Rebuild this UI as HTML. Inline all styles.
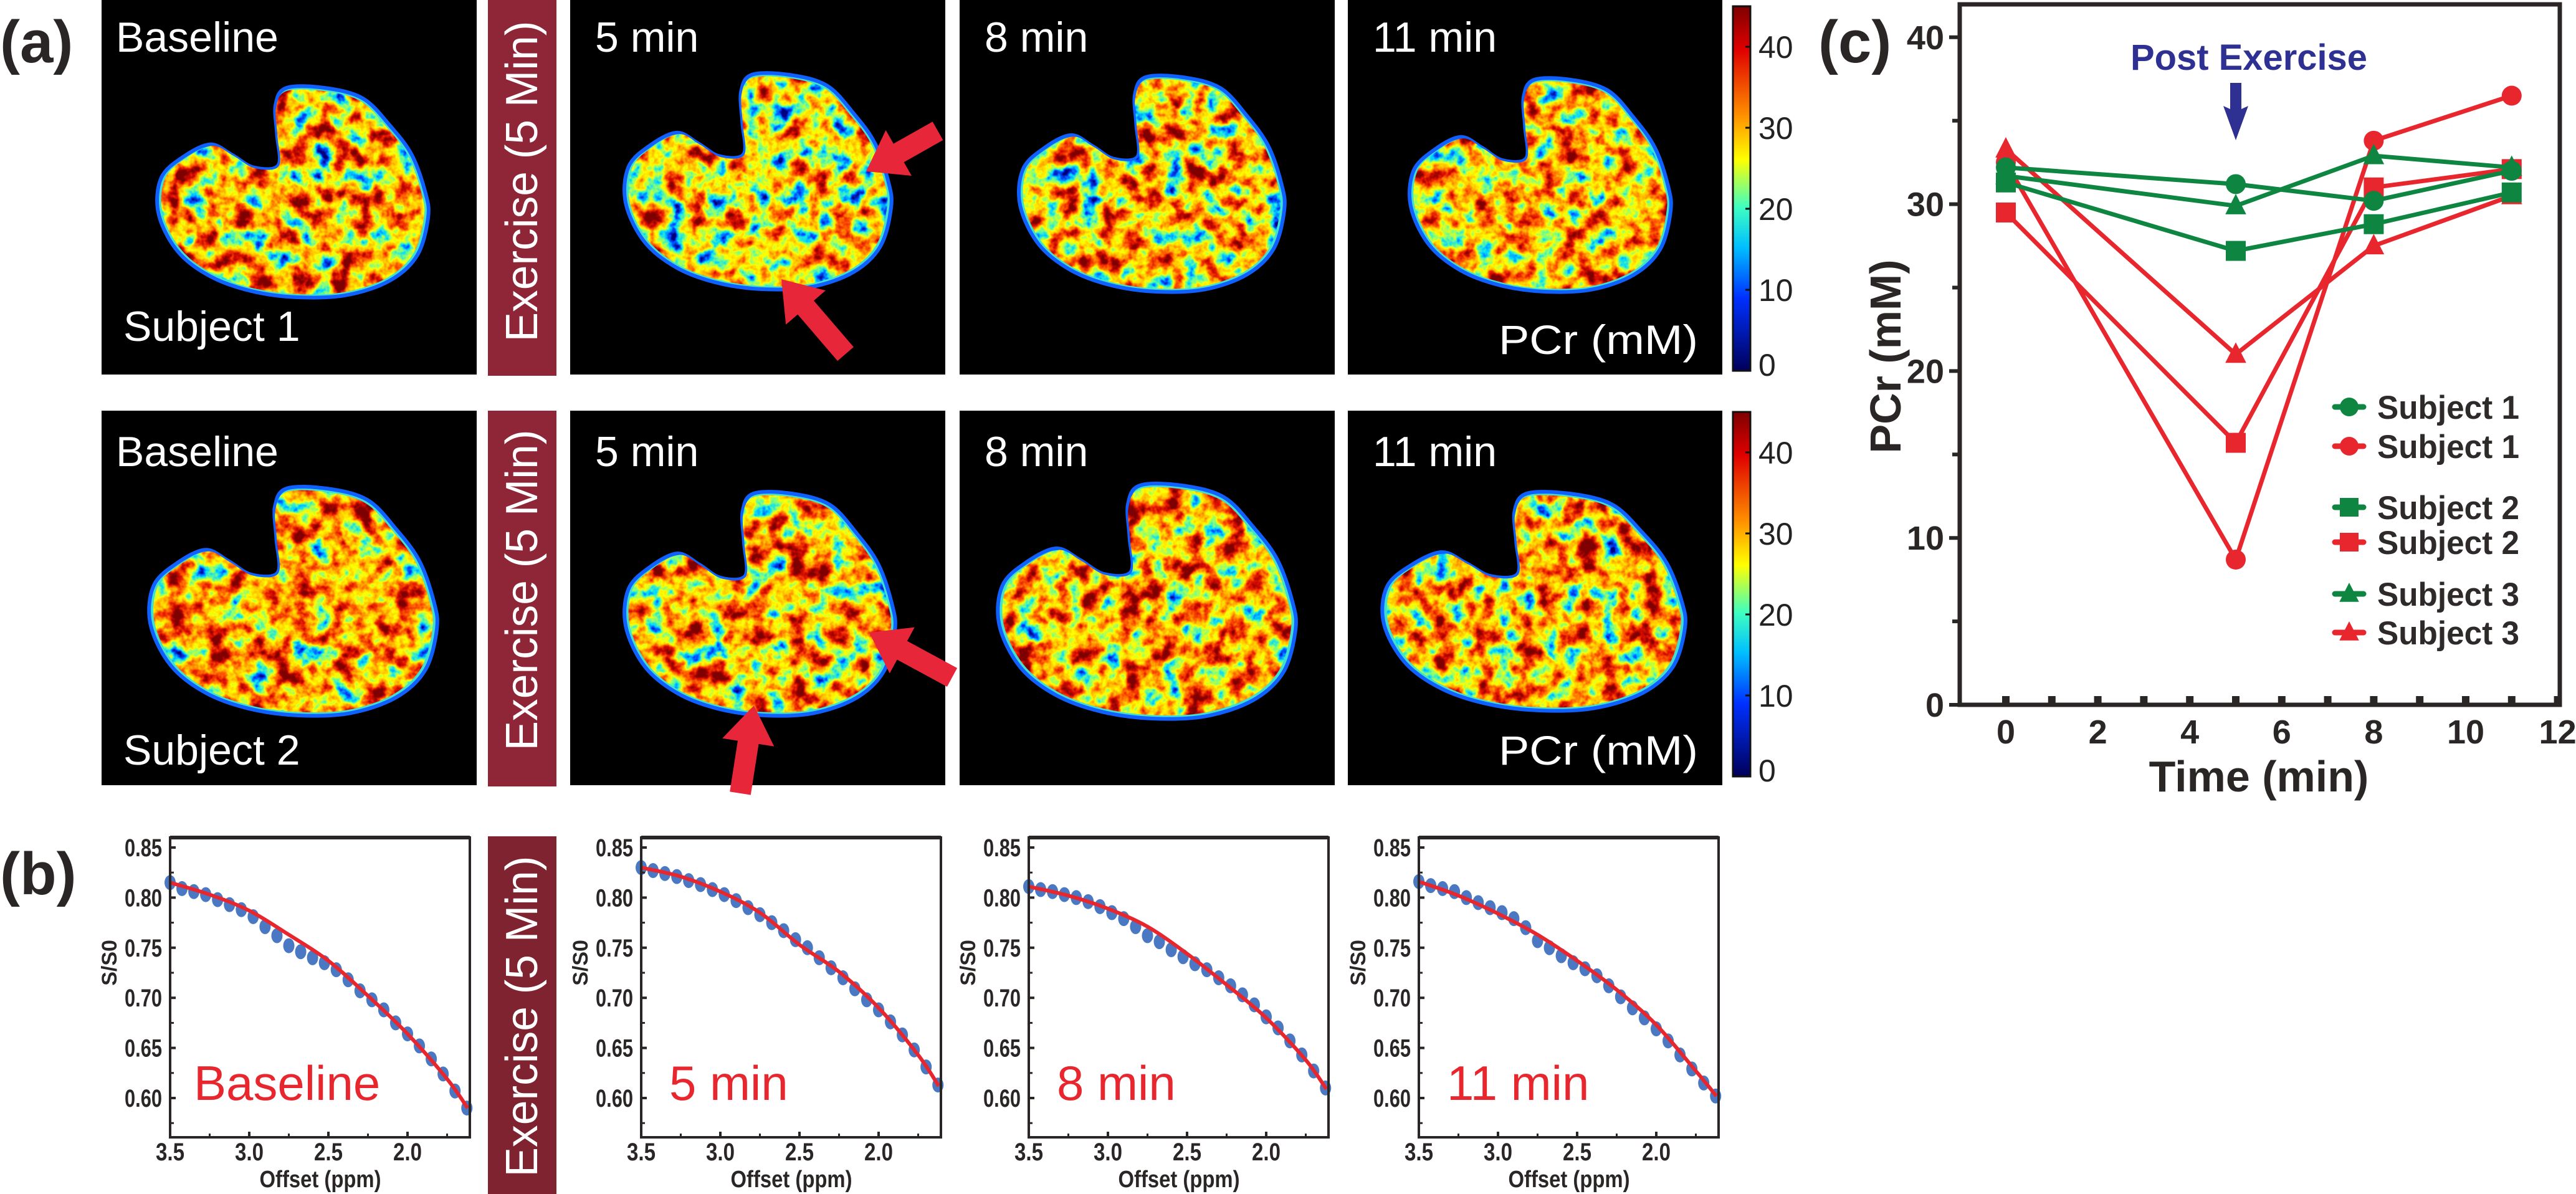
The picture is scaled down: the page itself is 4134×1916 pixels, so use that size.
<!DOCTYPE html>
<html><head><meta charset="utf-8">
<style>
html,body{margin:0;padding:0;background:#fff;}
svg{display:block;}
.nar{font-family:"Liberation Sans Narrow","Liberation Sans",sans-serif;}
.sans{font-family:"Liberation Sans",sans-serif;}
</style></head>
<body>
<svg id="fig" width="4134" height="1916" viewBox="0 0 4134 1916" xmlns="http://www.w3.org/2000/svg">
<defs>
<linearGradient id="jetbar" x1="0" y1="0" x2="0" y2="1">
<stop offset="0" stop-color="#7f0000"/><stop offset="0.12" stop-color="#e00000"/>
<stop offset="0.3" stop-color="#ff9000"/><stop offset="0.42" stop-color="#ffff00"/>
<stop offset="0.55" stop-color="#40ffc0"/><stop offset="0.66" stop-color="#00c0ff"/>
<stop offset="0.8" stop-color="#0030ff"/><stop offset="1" stop-color="#00005a"/>
</linearGradient>
</defs>
<g id="panelA"></g>
<g id="panelB"></g>
<g id="panelC"></g>
</svg>
<script>
// ---------- Panel (b) data ----------
const bOffsets = [3.5,3.425,3.35,3.275,3.2,3.125,3.05,2.975,2.9,2.825,2.75,2.675,2.6,2.525,2.45,2.375,2.3,2.225,2.15,2.075,2.0,1.925,1.85,1.775,1.7,1.625];
const bBaseline = [.815,.809,.806,.803,.798,.793,.788,.781,.771,.762,.752,.746,.740,.735,.728,.718,.707,.698,.688,.675,.664,.652,.639,.624,.607,.590];
const b5min = [.830,.827,.824,.821,.817,.813,.808,.803,.797,.790,.783,.775,.767,.758,.750,.740,.730,.720,.709,.698,.688,.676,.663,.648,.631,.613];
const b8min = [.811,.808,.806,.803,.800,.796,.791,.785,.779,.771,.762,.756,.748,.741,.734,.728,.720,.712,.703,.693,.681,.670,.657,.643,.627,.610];
const b11min = [.816,.812,.809,.806,.800,.795,.790,.785,.779,.770,.757,.750,.742,.735,.729,.722,.712,.701,.690,.680,.669,.657,.643,.629,.615,.602];
const fitOffsets = [3.5,3.25,3.0,2.75,2.5,2.25,2.0,1.75,1.62];
const fitBaseline = [.815,.803,.787,.763,.737,.702,.664,.619,.590];
const fit5min = [.830,.821,.806,.785,.753,.726,.690,.643,.612];
const fit8min = [.811,.802,.789,.771,.744,.713,.680,.638,.609];
const fit11min = [.816,.802,.784,.763,.737,.708,.673,.627,.602];
const bYTicks = ["0.85","0.80","0.75","0.70","0.65","0.60"];
const bXTicks = ["3.5","3.0","2.5","2.0"];
// ---------- Panel (c) data ----------
const cTimes = [0,5,8,11];
const s1Green = [32.2,31.2,30.2,32.0];
const s1Red = [32.5,8.7,33.8,36.5];
const s2Green = [31.3,27.2,28.8,30.7];
const s2Red = [29.5,15.7,31.0,32.1];
const s3Green = [31.7,29.9,32.9,32.2];
const s3Red = [33.3,21.0,27.5,30.5];
const cYTicks = [0,10,20,30,40];
const cXTicks = [0,2,4,6,8,10,12];

const NS="http://www.w3.org/2000/svg";
function mk(tag,attrs,parent,text){const e=document.createElementNS(NS,tag);for(const k in attrs)e.setAttribute(k,attrs[k]);if(text!==undefined)e.textContent=text;parent.appendChild(e);return e;}
const svg=document.getElementById('fig');
const defs=svg.querySelector('defs');
const A=document.getElementById('panelA'),B=document.getElementById('panelB'),C=document.getElementById('panelC');

function smooth(p){
  const n=p.length;let d='M'+p[0][0].toFixed(1)+','+p[0][1].toFixed(1);
  for(let i=0;i<n-1;i++){const p0=p[Math.max(i-1,0)],p1=p[i],p2=p[i+1],p3=p[Math.min(i+2,n-1)];
    const c1=[p1[0]+(p2[0]-p0[0])/6,p1[1]+(p2[1]-p0[1])/6],c2=[p2[0]-(p3[0]-p1[0])/6,p2[1]-(p3[1]-p1[1])/6];
    d+=` C${c1[0].toFixed(1)},${c1[1].toFixed(1)} ${c2[0].toFixed(1)},${c2[1].toFixed(1)} ${p2[0].toFixed(1)},${p2[1].toFixed(1)}`;}
  return d;
}

// ---------- Panel (a) ----------
let lab=mk('text',{x:0,y:100,'font-size':96,'font-weight':'bold',fill:'#2b2626',class:'sans'},A,'(a)');



const shapeN=[[0.44,0.08],[0.48,0.0],[0.62,0.0],[0.76,0.05],[0.86,0.18],[0.94,0.32],[0.99,0.5],[1.0,0.62],[0.96,0.8],[0.86,0.92],[0.7,0.99],[0.52,1.0],[0.35,0.97],[0.2,0.9],[0.08,0.78],[0.01,0.6],[0.02,0.43],[0.1,0.33],[0.2,0.27],[0.28,0.32],[0.36,0.38],[0.45,0.37],[0.445,0.22]];
function shapePath(x0,y0,w,h){
  const p=shapeN.map(q=>[x0+q[0]*w,y0+q[1]*h]);const n=p.length;
  let d='M'+p[0][0]+','+p[0][1];
  for(let i=0;i<n;i++){const p0=p[(i-1+n)%n],p1=p[i],p2=p[(i+1)%n],p3=p[(i+2)%n];
    const c1=[p1[0]+(p2[0]-p0[0])/6,p1[1]+(p2[1]-p0[1])/6],c2=[p2[0]-(p3[0]-p1[0])/6,p2[1]-(p3[1]-p1[1])/6];
    d+=` C${c1[0].toFixed(1)},${c1[1].toFixed(1)} ${c2[0].toFixed(1)},${c2[1].toFixed(1)} ${p2[0].toFixed(1)},${p2[1].toFixed(1)}`;}
  return d+'Z';
}
let fid=0;
function jetFilter(seed,shift){
  const id='jf'+(fid++);
  const f=mk('filter',{id:id,x:0,y:0,width:1,height:1,'color-interpolation-filters':'sRGB'},defs);
  mk('feTurbulence',{type:'fractalNoise',baseFrequency:'0.03',numOctaves:4,seed:seed},f);
  mk('feColorMatrix',{type:'matrix',values:'1 0 0 0 0 1 0 0 0 0 1 0 0 0 0 0 0 0 0 1'},f);
  const t1=mk('feComponentTransfer',{},f);
  ['feFuncR','feFuncG','feFuncB'].forEach(n=>mk(n,{type:'linear',slope:1.6,intercept:(-0.20+shift)},t1));
  const t2=mk('feComponentTransfer',{},f);
  mk('feFuncR',{type:'table',tableValues:'0 0 0 0.5 1 1 1 0.85 0.5'},t2);
  mk('feFuncG',{type:'table',tableValues:'0 0.3 0.85 1 1 0.75 0.35 0.05 0'},t2);
  mk('feFuncB',{type:'table',tableValues:'0.5 1 1 0.5 0 0 0 0 0'},t2);
  return id;
}
const panelXs=[163,915,1540,2163];
const panelW=[602,602,602,601];
const rowYs=[0,659];
const panelH=601;
const timeLabels=["Baseline","5 min","8 min","11 min"];
const shapes=[
 [[87,141,437,336],[85,120,430,344],[93,124,428,344],[97,128,421,340]],
 [[74,125,464,364],[85,133,436,356],[59,120,480,374],[53,133,488,348]]
];
const shifts=[[0.0,-0.07,-0.02,0.0],[0.03,0.0,0.02,0.01]];
let cp=0;
for(let r=0;r<2;r++){
  for(let c=0;c<4;c++){
    const px=panelXs[c],py=rowYs[r];
    const g=mk('g',{},A);
    
    
    mk('rect',{x:px,y:py,width:panelW[c],height:panelH,fill:'#000'},g);
    const s=shapes[r][c];
    const d=shapePath(px+s[0],py+s[1],s[2],s[3]);
    mk('path',{d:d,fill:'#40e0d0',stroke:'#1060ff','stroke-width':6},g);
    const cid='cp'+(cp++);
    const cx=px+s[0]+s[2]/2,cy=py+s[1]+s[3]/2;
    const clip=mk('clipPath',{id:cid},defs);mk('path',{d:d,transform:`translate(${cx},${cy}) scale(0.97) translate(${-cx},${-cy})`},clip);
    const filt=jetFilter(r*4+c+3,shifts[r][c]);
    mk('rect',{x:px+s[0]-10,y:py+s[1]-10,width:s[2]+20,height:s[3]+20,filter:`url(#${filt})`,'clip-path':`url(#${cid})`},g);
    let t=mk('text',{x:c==0?186:px+40,y:py+(r==0?83:89),'font-size':68,fill:'#fff',class:'sans'},g,timeLabels[c]);
    
    
    if(c==0){let t2=mk('text',{x:198,y:py+(r==0?547:568),'font-size':68,fill:'#fff',class:'sans'},g,'Subject '+(r+1));
      
      }
    if(c==3){let t3=mk('text',{x:2405,y:py+568,'font-size':66,fill:'#fff',class:'sans',textLength:320,lengthAdjust:'spacingAndGlyphs'},g,'PCr (mM)');
      
      }
  }
  const eb=mk('g',{},A);
  
  
  mk('rect',{x:783,y:rowYs[r],width:110,height:603,fill:'#8f2637'},eb);
  const cy=r==0?291:947;
  mk('text',{x:0,y:0,transform:`translate(838,${cy}) rotate(-90)`,'text-anchor':'middle','dominant-baseline':'central','font-size':72,fill:'#fff',class:'sans',textLength:515,lengthAdjust:'spacingAndGlyphs'},eb,'Exercise (5 Min)');
  const cb=mk('g',{},A);
  
  
  const cbTop=r==0?10:661,cbBot=r==0?595:1246;
  mk('rect',{x:2781,y:cbTop,width:28,height:cbBot-cbTop,fill:'url(#jetbar)',stroke:'#111','stroke-width':3},cb);
  const per=(cbBot-cbTop)/45;
  [0,10,20,30,40].forEach(v=>{const yy=cbBot-v*per;
    mk('line',{x1:2801,x2:2809,y1:yy,y2:yy,stroke:'#111','stroke-width':3},cb);
    mk('text',{x:2822,y:yy+(v==0?8:18),'font-size':50,fill:'#222',class:'sans'},cb,String(v));});
}
const arrows=[[1505,210,1390,275],[1357,568,1254,448],[1188,1273,1210,1132],[1528,1087,1395,1015]];
arrows.forEach((a,i)=>{const [x1,y1,x2,y2]=a;const ang=Math.atan2(y2-y1,x2-x1)*180/Math.PI;const L=Math.hypot(x2-x1,y2-y1);
  const g=mk('g',{transform:`translate(${x1},${y1}) rotate(${ang})`},A);
  
  
  mk('polygon',{points:`0,-17 ${L-60},-17 ${L-60},-42 ${L},0 ${L-60},42 ${L-60},17 0,17`,fill:'#e8263a'},g);
});

// ---------- Panel (b) ----------
let lb=mk('text',{x:0,y:1435,'font-size':96,'font-weight':'bold',fill:'#2b2626',class:'sans'},B,'(b)');


const ebB=mk('g',{},B);


mk('rect',{x:783,y:1342,width:110,height:574,fill:'#7f2330'},ebB);
mk('text',{x:0,y:0,transform:'translate(838,1631) rotate(-90)','text-anchor':'middle','dominant-baseline':'central','font-size':72,fill:'#fff',class:'sans',textLength:515,lengthAdjust:'spacingAndGlyphs'},ebB,'Exercise (5 Min)');

const yB=v=>1762-(v-0.6)*1608;
function plotB(left,name,label,dots,fit){
  const xB=o=>left+(3.5-o)/0.5*127;
  const g=mk('g',{},B);
  
  
  const top=1344,bot=1825,right=left+481;
  bOffsets.forEach((o,i)=>{const c=mk('ellipse',{cx:xB(o),cy:yB(dots[i]),rx:9,ry:12,fill:'#4a78c2'},g);
    
    });
  const fl=mk('path',{d:smooth(fitOffsets.map((o,i)=>[xB(o),yB(fit[i])])),fill:'none',stroke:'#e8262e','stroke-width':6,'stroke-linejoin':'round'},g);
  
  
  mk('rect',{x:left,y:top,width:481,height:bot-top,fill:'none',stroke:'#2a2626','stroke-width':4},g);
  mk('line',{x1:left,x2:right,y1:top,y2:top,stroke:'#2a2626','stroke-width':6},g);
  bYTicks.forEach(t=>{const v=parseFloat(t),yy=yB(v);
    mk('line',{x1:left,x2:left+9,y1:yy,y2:yy,stroke:'#2a2626','stroke-width':4},g);
    mk('line',{x1:left,x2:left+6,y1:yB(v-0.025),y2:yB(v-0.025),stroke:'#2a2626','stroke-width':3},g);
    mk('text',{x:left-13,y:yy+14,'text-anchor':'end','font-size':40,'font-weight':'bold',fill:'#2a2626',class:'nar',textLength:60,lengthAdjust:'spacingAndGlyphs'},g,t);});
  bXTicks.forEach(t=>{const o=parseFloat(t),xx=xB(o);
    mk('line',{x1:xx,x2:xx,y1:bot,y2:bot-9,stroke:'#2a2626','stroke-width':4},g);
    mk('line',{x1:xB(o-0.25),x2:xB(o-0.25),y1:bot,y2:bot-6,stroke:'#2a2626','stroke-width':3},g);
    mk('text',{x:xx,y:1862,'text-anchor':'middle','font-size':40,'font-weight':'bold',fill:'#2a2626',class:'nar',textLength:46,lengthAdjust:'spacingAndGlyphs'},g,t);});
  mk('text',{x:left+241,y:1905,'text-anchor':'middle','font-size':38,'font-weight':'bold',fill:'#2a2626',class:'nar',textLength:195,lengthAdjust:'spacingAndGlyphs'},g,'Offset (ppm)');
  mk('text',{x:0,y:0,transform:`translate(${left-86},${yB(0.735)}) rotate(-90)`,'text-anchor':'middle','font-size':34,'font-weight':'bold',fill:'#2a2626',class:'sans'},g,'S/S0');
  const tl=mk('text',{x:left+38+(label=='Baseline'?0:7),y:1765,'font-size':78,fill:'#e8262e',class:'nar'},g,label);
  
  
}
plotB(273,'baseline','Baseline',bBaseline,fitBaseline);
plotB(1029,'5min','5 min',b5min,fit5min);
plotB(1651,'8min','8 min',b8min,fit8min);
plotB(2277,'11min','11 min',b11min,fit11min);

// ---------- Panel (c) ----------
const xC=t=>3219+t*73.8;
const yC=v=>1131-v*26.78;
let lc=mk('text',{x:2918,y:100,'font-size':96,'font-weight':'bold',fill:'#2b2626',class:'sans'},C,'(c)');


const frame=mk('rect',{x:3145,y:7,width:963,height:1124,fill:'none',stroke:'#2a2626','stroke-width':7},C);


cYTicks.forEach(v=>{const yy=yC(v);
  mk('line',{x1:3128,x2:3145,y1:yy,y2:yy,stroke:'#2a2626','stroke-width':6},C);
  if(v<40) mk('line',{x1:3133,x2:3145,y1:yC(v+5),y2:yC(v+5),stroke:'#2a2626','stroke-width':6},C);
  const t=mk('text',{x:3120,y:yy+19,'text-anchor':'end','font-size':54,'font-weight':'bold',fill:'#2a2626',class:'sans'},C,String(v));
  
  });
for(let t=0;t<=12;t++){mk('rect',{x:xC(t)-6,y:1117,width:12,height:14,fill:'#2a2626'},C);}
cXTicks.forEach(v=>{const t=mk('text',{x:xC(v),y:1193,'text-anchor':'middle','font-size':54,'font-weight':'bold',fill:'#2a2626',class:'sans'},C,String(v));
  
  });
let xt=mk('text',{x:3625,y:1270,'text-anchor':'middle','font-size':70,'font-weight':'bold',fill:'#2a2626',class:'sans'},C,'Time (min)');


let yt=mk('text',{x:0,y:0,transform:'translate(3050,572) rotate(-90)','text-anchor':'middle','font-size':70,'font-weight':'bold',fill:'#2a2626',class:'sans'},C,'PCr (mM)');


let pe=mk('text',{x:3609,y:112,'text-anchor':'middle','font-size':58,'font-weight':'bold',fill:'#2e3192',class:'sans',textLength:380,lengthAdjust:'spacingAndGlyphs'},C,'Post Exercise');


let pa=mk('polygon',{points:`${xC(5)-9},133 ${xC(5)+9},133 ${xC(5)+9},175 ${xC(5)+20},170 ${xC(5)},225 ${xC(5)-20},170 ${xC(5)-9},175`,fill:'#2e3192'},C);



const GREEN='#0e8642',RED='#e8262e';
function marker(g,shape,x,y,col,s){
  if(shape=='circle') return mk('circle',{cx:x,cy:y,r:s,fill:col},g);
  if(shape=='square') return mk('rect',{x:x-s,y:y-s,width:2*s,height:2*s,fill:col},g);
  return mk('polygon',{points:`${x},${y-s*1.2} ${x+s*1.05},${y+s*0.85} ${x-s*1.05},${y+s*0.85}`,fill:col},g);
}
const seriesList=[['subject1-green',s1Green,GREEN,'circle'],['subject1-red',s1Red,RED,'circle'],['subject2-green',s2Green,GREEN,'square'],['subject2-red',s2Red,RED,'square'],['subject3-green',s3Green,GREEN,'triangle'],['subject3-red',s3Red,RED,'triangle']];
const drawOrder=[1,3,5,0,2,4];
drawOrder.forEach(i=>{const [nm,vals,col,shp]=seriesList[i];
  const g=mk('g',{},C);
  
  
  const pts=cTimes.map((t,j)=>xC(t).toFixed(1)+','+yC(vals[j]).toFixed(1)).join(' ');
  mk('polyline',{points:pts,fill:'none',stroke:col,'stroke-width':7,'stroke-linejoin':'round'},g);
  cTimes.forEach((t,j)=>{const m=marker(g,shp,xC(t),yC(vals[j]),col,16);
    
    });
});
const legY=[653,716,814,870,953,1015];
[0,1,2,3,4,5].forEach((i,k)=>{const [nm,vals,col,shp]=seriesList[i];
  const g=mk('g',{},C);
  
  
  mk('line',{x1:3747,x2:3793,y1:legY[k],y2:legY[k],stroke:col,'stroke-width':9,'stroke-linecap':'round'},g);
  marker(g,shp,3770,legY[k],col,15);
  mk('text',{x:3815,y:legY[k]+19,'font-size':53,'font-weight':'bold',fill:'#2f2a2a',class:'sans',textLength:228,lengthAdjust:'spacingAndGlyphs'},g,'Subject '+(Math.floor(i/2)+1));
});
</script>
</body></html>
